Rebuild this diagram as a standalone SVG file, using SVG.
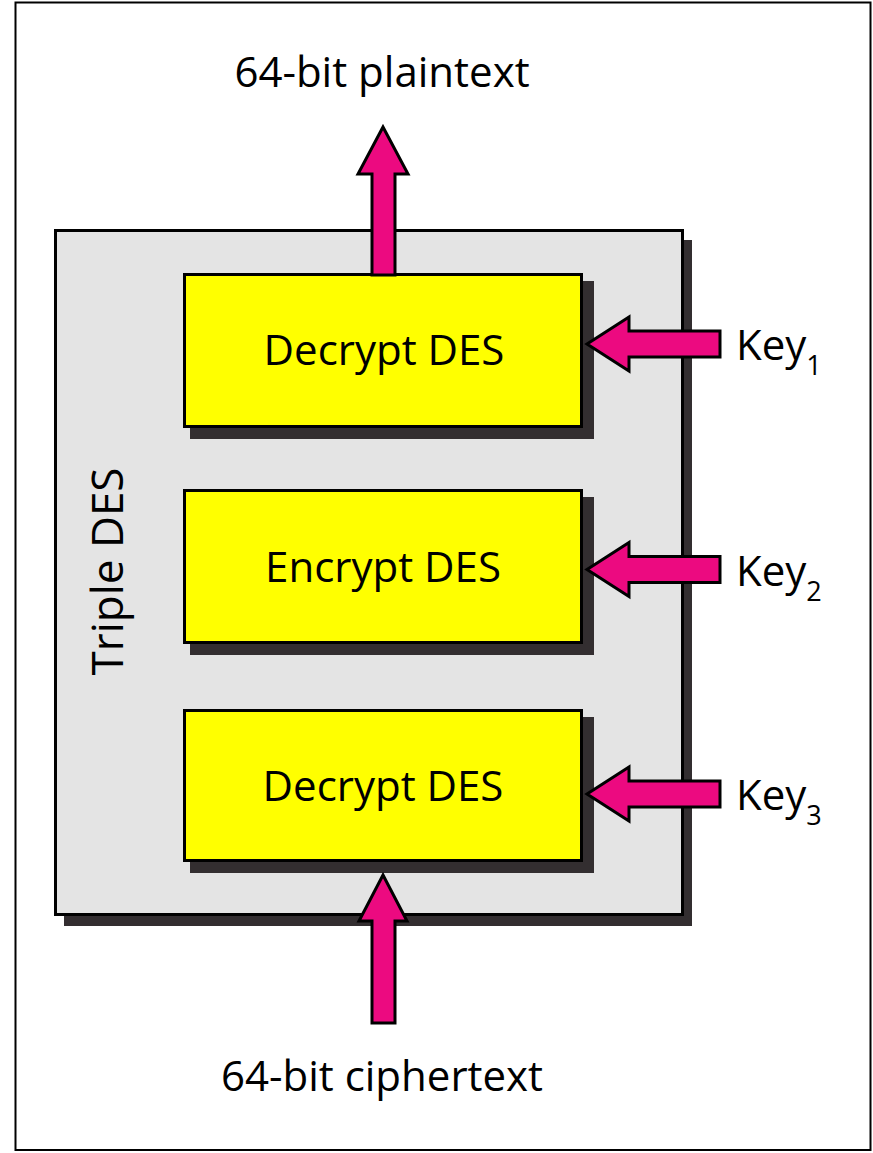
<svg xmlns="http://www.w3.org/2000/svg" width="873" height="1153" viewBox="0 0 873 1153">
<style>
text{font-family:"Open Sans","Liberation Sans",sans-serif;fill:#000}
.lbl{font-size:42px}
.box{fill:#ffff00;stroke:#000;stroke-width:3}
.shadow{fill:#332e30}
.arrow{fill:#ec0a80;stroke:#000;stroke-width:3;stroke-linejoin:miter}
</style>
<rect x="15.5" y="2.5" width="855" height="1147.5" fill="#fff" stroke="#000" stroke-width="2"/>
<g id="tripledes">
<rect class="shadow" x="64" y="240" width="628" height="686"/>
<rect x="55.5" y="230.5" width="627" height="684" fill="#e4e4e4" stroke="#000" stroke-width="3"/>
<text class="lbl" font-size="44" transform="translate(123,571.5) rotate(-90)" text-anchor="middle" style="font-size:44px">Triple DES</text>
</g>
<g id="decrypt1">
<rect class="shadow" x="190" y="281" width="404" height="158"/>
<rect class="box" x="184.5" y="274.5" width="397" height="152"/>
<text class="lbl" x="384" y="365" text-anchor="middle">Decrypt DES</text>
</g>
<g id="encrypt">
<rect class="shadow" x="190" y="497" width="404" height="158"/>
<rect class="box" x="184.5" y="490.5" width="397" height="152"/>
<text class="lbl" x="383" y="582" text-anchor="middle">Encrypt DES</text>
</g>
<g id="decrypt2">
<rect class="shadow" x="190" y="717" width="404" height="156"/>
<rect class="box" x="184.5" y="710.5" width="397" height="150"/>
<text class="lbl" x="383" y="801" text-anchor="middle">Decrypt DES</text>
</g>
<g id="plaintext">
<text class="lbl" x="382" y="87" text-anchor="middle">64-bit plaintext</text>
</g>
<g id="ciphertext">
<text class="lbl" x="382" y="1091" text-anchor="middle">64-bit ciphertext</text>
</g>
<g id="key1"><text class="lbl" x="736" y="360">Key<tspan style="font-size:27px" dy="15">1</tspan></text></g>
<g id="key2"><text class="lbl" x="736" y="586">Key<tspan style="font-size:27px" dy="15">2</tspan></text></g>
<g id="key3"><text class="lbl" x="736" y="810">Key<tspan style="font-size:27px" dy="15">3</tspan></text></g>
<g id="connectors">
<polygon class="arrow" points="383,127 408,174 395,174 395,275 372,275 372,174 358,174"/>
<polygon class="arrow" points="383,875 407,921 395,921 395,1023 372,1023 372,921 359,921"/>
<polygon class="arrow" points="587,344 629,317 629,331 720,331 720,357 629,357 629,371"/>
<polygon class="arrow" points="587,569.5 629,542.5 629,556.5 720,556.5 720,582.5 629,582.5 629,596.5"/>
<polygon class="arrow" points="587,794 629,767 629,781 720,781 720,807 629,807 629,821"/>
</g>
</svg>
